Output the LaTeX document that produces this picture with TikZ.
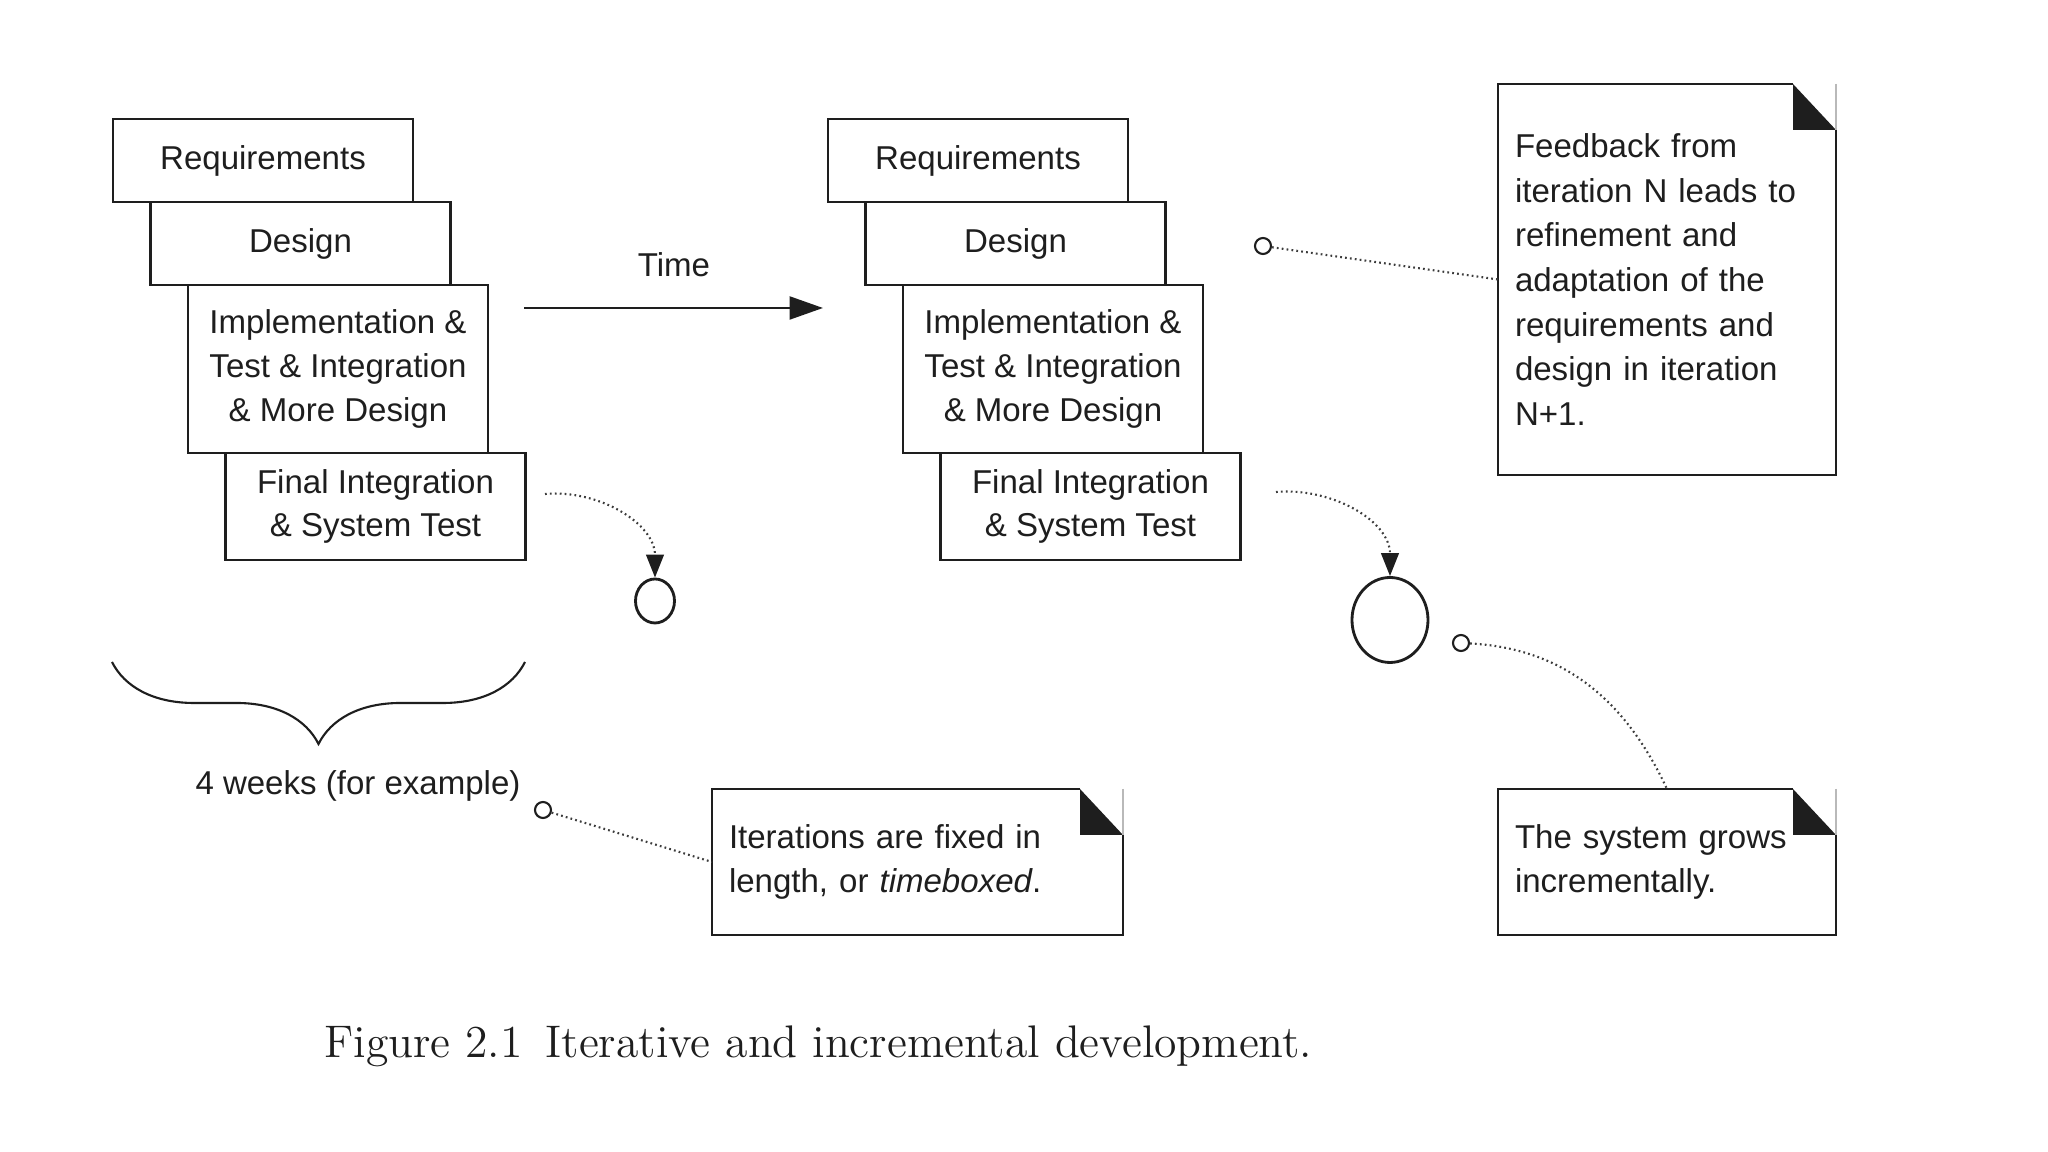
\documentclass[tikz,border=0pt]{standalone}
\usepackage{fontspec}
\setsansfont{Liberation Sans}
\usepackage{tikz}
\usetikzlibrary{
  arrows.meta,
  positioning,
  calc,
  shapes.geometric,
  decorations.pathreplacing,
}
\definecolor{ink}{HTML}{1E1E1E}
\definecolor{dots}{HTML}{3C3C3C}
\definecolor{paper}{HTML}{FFFFFF}
\tikzset{
  >=Stealth,
  font=\sffamily\fontsize{9.4}{12.5}\selectfont,
  every node/.append style={text=ink},
  stage/.style={
    draw=ink,
    line width=0.8pt,
    minimum width=3cm,
    inner sep=0pt,
    outer sep=0pt,
    align=center,
    anchor=north west,
  },
  memo/.style={
    inner xsep=0.17cm,
    inner ysep=0pt,
    outer sep=0pt,
    align=left,
    font=\sffamily\fontsize{9.4}{12.7}\selectfont,
  },
  bubble/.style={ellipse, draw=ink, line width=0.8pt, inner sep=0pt},
  tack/.style={circle, draw=ink, line width=0.6pt, inner sep=0pt, minimum size=0.16cm},
  hint/.style={dots, line width=0.6pt, dash pattern=on 0.5pt off 0.9pt},
  caption/.style={font=\rmfamily\fontsize{13}{15}\selectfont, anchor=west},
}

\begin{document}
\begin{tikzpicture}[x=1cm,y=1cm]
  \fill[paper] (0,0) rectangle (20.48,11.52);
  \useasboundingbox (0,0) rectangle (20.48,11.52);

  % --- two iterations ---
  \foreach \dx/\id in {0/a, 7.15/b} {
    \node[stage, minimum height=0.83cm] (req\id) at (1.13+\dx,10.33) {Requirements};
    \node[stage, minimum height=0.83cm, xshift=0.375cm] (des\id) at (req\id.south west) {Design};
    \node[stage, minimum height=1.68cm, xshift=0.375cm] (imp\id) at (des\id.south west)
      {Implementation \&\\Test \& Integration\\\& More Design};
    \node[stage, minimum height=1.07cm, xshift=0.375cm] (fin\id) at (imp\id.south west)
      {Final Integration\\\& System Test};
  }

  % time arrow
  \coordinate (t0) at (5.24,8.44);
  \coordinate (t1) at (8.23,8.44);
  \draw[ink, line width=0.75pt, -{Triangle[length=9.5pt,width=6.5pt]}] (t0) -- (t1);
  \node (time) at (6.74,8.87) {Time};

  % growing system
  \node[bubble, minimum width=0.39cm, minimum height=0.44cm] (inca) at (6.55,5.51) {};
  \node[bubble, minimum width=0.76cm, minimum height=0.85cm] (incb) at (13.90,5.32) {};
  \coordinate (fa) at (5.45,6.58);
  \coordinate (fb) at (12.76,6.60);
  \draw[hint, -{Triangle[length=6.5pt,width=5pt,color=ink]}] (fa) to[out=5,in=90] (inca.north);
  \draw[hint, -{Triangle[length=6.5pt,width=5pt,color=ink]}] (fb) to[out=5,in=90] (incb.north);

  % timebox brace
  \coordinate (wl) at (1.12,4.90);
  \coordinate (wr) at (5.25,4.90);
  \draw[ink, line width=0.6pt, decorate, decoration={brace, amplitude=0.82cm}] (wr) -- (wl);
  \node (weeks) at (3.58,3.66) {4 weeks (for example)};

  % --- notes ---
  \node[memo, text width=3.77cm, minimum height=1.46cm] (itnote) at (9.175,2.90)
    {Iterations are fixed in\\length, or \textit{timeboxed}.};
  \node[memo, text width=3.04cm, minimum height=3.91cm] (fbnote) at (16.67,8.725)
    {Feedback from\\iteration N leads to\\refinement and\\adaptation of the\\requirements and\\design in iteration\\N+1.};
  \node[memo, text width=3.04cm, minimum height=1.46cm] (sysnote) at (16.67,2.90)
    {The system grows\\incrementally.};
  \foreach \n in {itnote, fbnote, sysnote} {
    \draw[ink, line width=0.8pt] ([xshift=-0.43cm]\n.north east) -- (\n.north west)
      -- (\n.south west) -- (\n.south east) -- ([yshift=-0.46cm]\n.north east);
    \fill[ink] ([xshift=-0.43cm]\n.north east) -- ([yshift=-0.46cm]\n.north east)
      -- ([xshift=-0.43cm,yshift=-0.46cm]\n.north east) -- cycle;
    \draw[gray!55, line width=0.3pt] (\n.north east) -- ([yshift=-0.46cm]\n.north east);
  }

  % note links
  \node[tack] (k1) at (5.43,3.42) {};
  \node[tack] (k2) at (12.63,9.06) {};
  \node[tack] (k3) at (14.61,5.09) {};
  \draw[hint] (k1) -- (itnote.west);
  \draw[hint] (k2) -- (fbnote.west);
  \draw[hint] (k3) to[out=-3,in=115] (sysnote.north);

  \node[caption] (cap) at (3.12,1.06) {Figure 2.1\enspace Iterative and incremental development.};
\end{tikzpicture}
\end{document}
